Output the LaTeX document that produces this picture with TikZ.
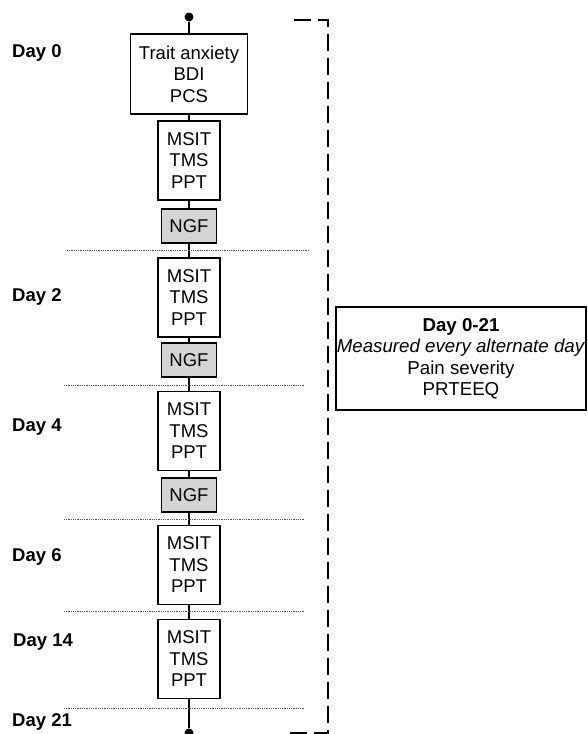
\documentclass[tikz,border=0pt]{standalone}
\usepackage{fontspec}
\setmainfont{Liberation Sans}
\usetikzlibrary{positioning, calc}

\tikzset{
  txt/.style={font=\fontsize{18.5}{21.5}\selectfont, align=center, inner sep=0pt},
  testbox/.style={txt, draw, line width=1.5pt, minimum width=62pt, minimum height=79pt},
  ngfbox/.style={txt, draw, line width=1.5pt, fill=black!17, minimum width=55pt, minimum height=34pt},
  daylabel/.style={font=\fontsize{18.5}{21.5}\selectfont\bfseries, anchor=west, inner sep=0pt},
  dot/.style={circle, fill=black, inner sep=0pt, minimum size=9pt},
  link/.style={line width=1.4pt},
  daysep/.style={line width=0.9pt, black!65, dash pattern=on 0.9pt off 0.9pt},
  bracket/.style={line width=2.4pt, dash pattern=on 17pt off 7pt}
}

\begin{document}
\begin{tikzpicture}[x=1pt, y=-1pt]
  \useasboundingbox (0,0) rectangle (587,734);

  % timeline column
  \node[dot] (start) at (189,17) {};
  \node[testbox, minimum width=117pt, minimum height=80pt] (base) at (189,74)
    {Trait anxiety\\BDI\\PCS};
  \node[testbox] (t0) at (189,160.5) {MSIT\\TMS\\PPT};
  \node[ngfbox]  (n0) at (189,226)   {NGF};
  \node[testbox] (t2) at (189,297.5) {MSIT\\TMS\\PPT};
  \node[ngfbox]  (n2) at (189,360)   {NGF};
  \node[testbox] (t4) at (189,431)   {MSIT\\TMS\\PPT};
  \node[ngfbox]  (n4) at (189,495)   {NGF};
  \node[testbox] (t6) at (189,565)   {MSIT\\TMS\\PPT};
  \node[testbox] (t14) at (189,659)  {MSIT\\TMS\\PPT};
  \node[dot] (end) at (189,733) {};

  \foreach \a/\b in {start/base, base/t0, t0/n0, n0/t2, t2/n2, n2/t4,
                     t4/n4, n4/t6, t6/t14, t14/end}
    \draw[link] (\a) -- (\b);

  % day separators
  \foreach \y/\l/\r in {250/67/309, 385/64/305, 519/64/305, 611/64/305, 708/64/305}
    \draw[daysep] (\l,\y) -- (\r,\y);

  % day labels
  \node[daylabel] (d0)  at (12,53)  {Day 0};
  \node[daylabel] (d2)  at (12,297) {Day 2};
  \node[daylabel] (d4)  at (12,427) {Day 4};
  \node[daylabel] (d6)  at (12,557) {Day 6};
  \node[daylabel] (d14) at (13,642) {Day 14};
  \node[daylabel] (d21) at (12,722) {Day 21};

  % whole period
  \draw[bracket] (294,20) -- (328,20) -- (328,733) -- (290,733);
  \node[txt, font=\fontsize{18.7}{21.5}\selectfont, draw, line width=1.5pt,
        minimum width=250pt, minimum height=103pt]
    (period) at (461,358.5)
    {\textbf{Day 0-21}\\\textit{Measured every alternate day}\\Pain severity\\PRTEEQ};
\end{tikzpicture}
\end{document}
